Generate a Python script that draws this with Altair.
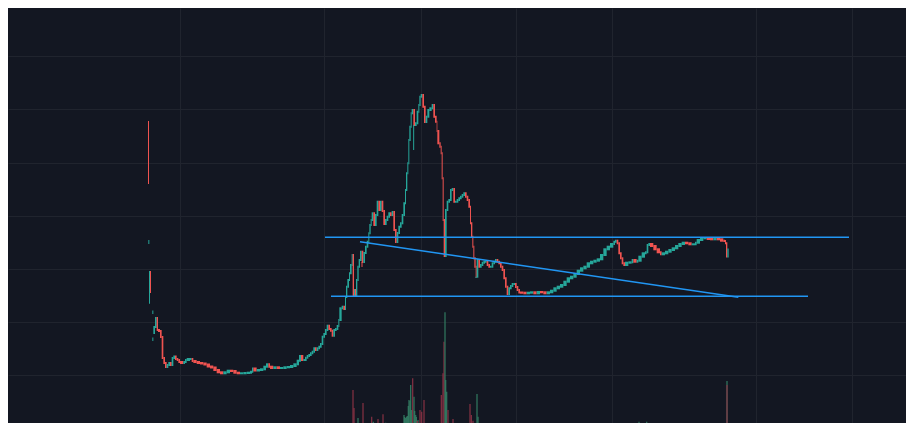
import altair as alt
import numpy as np
import pandas as pd

BG = "#131722"
GRID = "#20242e"
UP = "#26a69a"
DOWN = "#ef5350"
VOL_UP = "#327a62"
VOL_DOWN = "#873144"
BLUE = "#2196f3"

# isolated first candles of the listing
pre_t = [0, 1, 3, 6, 13, 13]
pre_open = [30.9, 18.8, 12.83, 15.9, 11.8, 9.1]
pre_close = [24.8, 19.0, 15.9, 13.9, 11.95, 9.25]

first_open = 9.8
T = [16, 21, 26, 30, 36, 41, 46, 51, 56, 61,
     66, 71, 76, 81, 86, 91, 96, 106, 111, 116,
     126, 131, 136, 146, 156, 166, 176, 186, 196, 206,
     216, 226, 236, 246, 256, 266, 276, 286, 296, 306,
     312, 316, 326, 336, 346, 354, 361, 366, 376, 386,
     396, 406, 416, 426, 436, 446, 453, 459, 466, 471,
     476, 481, 486, 491, 496, 501, 506, 511, 516, 521,
     526, 531, 536, 541, 546, 551, 556, 561, 566, 571,
     574, 581, 586, 591, 594, 598, 603, 606, 611, 614,
     618, 621, 624, 628, 632, 636, 641, 646, 651, 656,
     661, 664, 668, 671, 676, 681, 686, 691, 696, 701,
     706, 711, 716, 721, 726, 731, 736, 741, 746, 751,
     756, 761, 766, 771, 774, 778, 781, 784, 788, 791,
     796, 801, 806, 811, 814, 818, 823, 828, 833, 838,
     844, 851, 856, 861, 866, 868, 874, 878, 881, 884,
     887, 891, 896, 901, 906, 911, 916, 921, 926, 931,
     936, 941, 946, 951, 956, 961, 966, 969, 973, 976,
     979, 983, 986, 991, 996, 1001, 1006, 1011, 1016, 1021,
     1026, 1031, 1036, 1041, 1046, 1051, 1056, 1061, 1066, 1071,
     1076, 1081, 1086, 1091, 1096, 1101, 1106, 1111, 1116, 1126,
     1136, 1146, 1156, 1166, 1176, 1186, 1196, 1206, 1216, 1226,
     1236, 1246, 1256, 1266, 1276, 1286, 1296, 1306, 1316, 1326,
     1336, 1346, 1356, 1366, 1376, 1386, 1396, 1401, 1406, 1411,
     1416, 1421, 1426, 1431, 1441, 1451, 1456, 1466, 1471, 1481,
     1491, 1496, 1501, 1506, 1516, 1526, 1536, 1541, 1551, 1561,
     1571, 1581, 1591, 1601, 1611, 1621, 1631, 1641, 1646, 1656,
     1666, 1676, 1686, 1696, 1706, 1716, 1726, 1731, 1734, 1738]
C = [10.4, 11.3, 10.1, 10.0, 9.4, 7.3, 6.8, 6.4, 6.6, 6.8,
     6.6, 7.3, 7.45, 7.2, 7.1, 6.9, 6.8, 6.9, 7.1, 7.2,
     7.2, 7.0, 6.9, 6.8, 6.75, 6.65, 6.45, 6.35, 6.1, 5.87,
     5.77, 5.87, 6.03, 6.0, 5.83, 5.77, 5.77, 5.8, 5.83, 5.93,
     6.25, 6.05, 6.1, 6.17, 6.43, 6.67, 6.43, 6.3, 6.37, 6.3,
     6.3, 6.37, 6.4, 6.5, 6.67, 7.03, 7.5, 7.1, 7.1, 7.33,
     7.5, 7.6, 7.77, 7.93, 8.27, 8.1, 8.27, 8.43, 8.7, 9.43,
     9.7, 10.1, 10.53, 10.2, 10.03, 9.53, 10.1, 10.2, 10.5, 11.1,
     12.27, 12.43, 12.2, 13.4, 14.43, 15.1, 15.77, 16.6, 17.6, 13.6,
     14.1, 13.6, 15.1, 16.43, 17.1, 17.93, 16.9, 17.8, 18.43, 18.93,
     19.77, 20.6, 21.1, 21.77, 20.6, 21.6, 22.93, 22.1, 22.93, 22.0,
     20.7, 21.1, 21.43, 21.77, 21.6, 21.9, 20.1, 18.9, 19.8, 20.43,
     20.77, 21.6, 22.77, 24.1, 25.77, 26.77, 29.1, 30.43, 31.77, 32.1,
     30.6, 30.77, 31.93, 32.6, 33.43, 33.6, 32.43, 30.9, 31.43, 32.1,
     32.27, 32.6, 31.43, 30.93, 30.0, 28.77, 28.43, 27.77, 25.27, 21.1,
     17.5, 22.1, 22.93, 23.1, 24.1, 24.2, 22.93, 22.93, 23.1, 23.27,
     23.43, 23.6, 23.77, 23.43, 23.1, 22.43, 20.77, 19.43, 18.43, 17.27,
     16.43, 15.43, 17.1, 16.43, 16.6, 16.83, 16.93, 16.93, 16.6, 16.43,
     16.43, 16.77, 16.93, 17.1, 16.93, 16.77, 16.43, 16.1, 15.27, 14.43,
     13.7, 14.27, 14.5, 14.7, 14.7, 14.4, 14.1, 13.85, 13.83, 13.77,
     13.83, 13.87, 13.77, 13.9, 13.87, 13.77, 13.87, 14.03, 14.27, 14.43,
     14.6, 14.93, 15.27, 15.43, 15.7, 16.03, 16.27, 16.43, 16.77, 16.93,
     17.03, 17.17, 17.6, 18.17, 18.43, 18.7, 18.93, 19.03, 18.77, 17.77,
     17.27, 16.77, 16.6, 16.83, 16.87, 17.1, 16.93, 17.03, 17.43, 17.77,
     17.87, 18.6, 18.7, 18.5, 18.17, 17.87, 17.67, 17.77, 17.93, 18.1,
     18.27, 18.5, 18.7, 18.83, 18.77, 18.67, 18.67, 18.83, 19.1, 19.27,
     19.27, 19.2, 19.17, 19.2, 19.17, 19.03, 19.0, 18.77, 17.45, 18.15]

wick_t = [642, 797, 984]
wick_low = [16.4, 28.1, 15.3]
wick_high = [16.9, 30.6, 15.43]
wick_dir = ["down", "up", "up"]

vol_t = [571, 596, 606, 613, 616, 621, 628, 633, 643, 648,
         659, 666, 669, 674, 681, 688, 696, 703, 711, 720,
         738, 746, 756, 766, 771, 774, 781, 786, 789, 792,
         796, 801, 808, 814, 819, 826, 831, 838, 846, 856,
         866, 871, 878, 883, 886, 889, 891, 894, 898, 903,
         913, 918, 926, 939, 953, 964, 968, 973, 978, 983,
         985, 988, 1021, 1069, 1372, 1408, 1471, 1494, 1735, 1735,
         768, 776, 779, 784, 798, 803, 806, 761]
vol_v = [20, 10, 77, 410, 230, 60, 130, 30, 280, 50,
         43, 70, 143, 93, 30, 120, 60, 167, 83, 30,
         60, 80, 40, 160, 130, 143, 310, 460, 210, 527,
         343, 160, 110, 210, 193, 310, 77, 77, 40, 50,
         60, 43, 360, 577, 893, 1187, 510, 393, 210, 60,
         120, 50, 27, 20, 77, 270, 160, 103, 77, 43,
         370, 143, 27, 17, 27, 70, 93, 93, 500, 460,
         140, 150, 250, 300, 200, 140, 100, 70]
vol_dir = ["up", "up", "down", "down", "down", "up", "up", "up", "down", "down",
           "up", "up", "down", "up", "up", "down", "up", "down", "up", "up",
           "down", "up", "down", "up", "up", "up", "up", "up", "up", "down",
           "up", "up", "up", "down", "down", "down", "up", "down", "down", "down",
           "down", "down", "down", "down", "down", "up", "up", "up", "down", "down",
           "down", "down", "up", "up", "up", "down", "down", "down", "down", "down",
           "up", "up", "up", "down", "up", "down", "up", "up", "up", "down",
           "up", "up", "up", "up", "up", "up", "down", "up"]

lvl_t1 = [531, 549, 636]
lvl_t2 = [2103, 1980, 1771]
lvl_p1 = [19.37, 13.47, 18.93]
lvl_p2 = [19.37, 13.47, 13.37]

grid_t = [97, 529, 818, 1105, 1393, 1824, 2112]
grid_p = [5.56, 10.88, 16.2, 21.52, 26.84, 32.16, 37.48]

# ---- tables ----
rows = []
for i in range(len(pre_t)):
    rows.append(dict(t=pre_t[i], t2=pre_t[i] + 3, o=pre_open[i], c=pre_close[i]))
n = min(len(T), len(C))
prev = first_open
for i in range(n):
    t2 = T[i + 1] if i + 1 < n else T[i] + 4
    rows.append(dict(t=T[i], t2=t2, o=prev, c=C[i]))
    prev = C[i]
cdf = pd.DataFrame(rows)
cdf["lo"] = cdf[["o", "c"]].min(axis=1) - 0.1
cdf["hi"] = cdf[["o", "c"]].max(axis=1) + 0.1
cdf["col"] = np.where(cdf["c"] < cdf["o"], DOWN, UP)

wdf = pd.DataFrame(dict(t=wick_t, lo=wick_low, hi=wick_high, dir=wick_dir))
wdf["col"] = np.where(wdf["dir"] == "down", DOWN, UP)
m = min(len(vol_t), len(vol_v), len(vol_dir))
vdf = pd.DataFrame(dict(t=vol_t[:m], v=vol_v[:m], dir=vol_dir[:m]))
vdf["t2"] = vdf["t"] + 4
vdf["zero"] = 0
vdf["col"] = np.where(vdf["dir"] == "down", VOL_DOWN, VOL_UP)
ldf = pd.DataFrame(dict(t1=lvl_t1, t2=lvl_t2, p1=lvl_p1, p2=lvl_p2))

xs = alt.Scale(domain=[-420, 2274], nice=False, zero=False)
ys = alt.Scale(domain=[0.8, 42.3], nice=False, zero=False)
vs = alt.Scale(domain=[80, 4230], nice=False, zero=False)

xaxis = alt.Axis(values=grid_t, grid=True, gridColor=GRID, gridWidth=1,
                 labels=False, ticks=False, domain=False, title=None)
yaxis = alt.Axis(values=grid_p, grid=True, gridColor=GRID, gridWidth=1,
                 labels=False, ticks=False, domain=False, title=None)

vol = alt.Chart(vdf).mark_rect(opacity=0.9, clip=True).encode(
    x=alt.X("t:Q", scale=xs, axis=xaxis),
    x2="t2:Q",
    y=alt.Y("v:Q", scale=vs, axis=None),
    y2="zero:Q",
    color=alt.Color("col:N", scale=None),
)

candles = alt.Chart(cdf).mark_rect(clip=True).encode(
    x=alt.X("t:Q", scale=xs, axis=xaxis),
    x2="t2:Q",
    y=alt.Y("lo:Q", scale=ys, axis=yaxis),
    y2="hi:Q",
    color=alt.Color("col:N", scale=None),
)

wicks = alt.Chart(wdf).mark_rule(strokeWidth=1, clip=True).encode(
    x=alt.X("t:Q", scale=xs, axis=xaxis),
    y=alt.Y("lo:Q", scale=ys, axis=None),
    y2="hi:Q",
    color=alt.Color("col:N", scale=None),
)

levels = alt.Chart(ldf).mark_rule(color=BLUE, strokeWidth=1.5, clip=True).encode(
    x=alt.X("t1:Q", scale=xs, axis=xaxis),
    x2="t2:Q",
    y=alt.Y("p1:Q", scale=ys, axis=None),
    y2="p2:Q",
)

chart = alt.layer(vol, candles, wicks, levels).resolve_scale(
    y="independent"
).properties(
    width=898, height=415, background=BG, padding=0,
    autosize=alt.AutoSizeParams(type="none"),
).configure_view(strokeWidth=0, fill=BG)

chart.save("out.html", embed_options={"renderer": "svg", "actions": False})
